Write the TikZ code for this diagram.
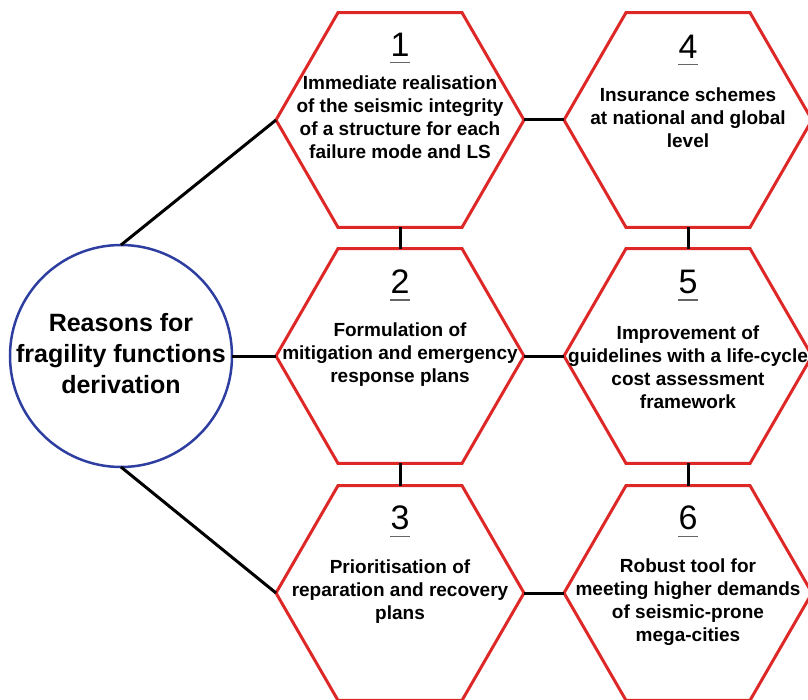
\documentclass[tikz,border=0pt]{standalone}
\usepackage{fontspec}
\setmainfont{Liberation Sans}
\usetikzlibrary{shapes.geometric}
\definecolor{hexred}{RGB}{222,40,40}
\definecolor{cblue}{RGB}{45,62,160}
\begin{document}
\begin{tikzpicture}[x=1pt,y=-1pt,
 hexbox/.style={regular polygon, regular polygon sides=6, minimum size=248pt, draw=hexred, line width=3pt, inner sep=0pt, outer sep=0pt},
 hextext/.style={align=center, font=\fontsize{19}{23}\selectfont\bfseries, inner sep=0pt},
 numtext/.style={font=\fontsize{34}{34}\selectfont, inner sep=0pt},
 uline/.style={draw=black!60, line width=1.2pt},
 link/.style={line width=3pt, black}]
\useasboundingbox (0,0) rectangle (808,700);
% main circle
\node[circle, minimum size=222pt, draw=cblue, line width=2.5pt, inner sep=0pt, outer sep=0pt] (c) at (121,356) {};
\node[align=center, font=\fontsize{25}{31}\selectfont\bfseries, inner sep=0pt] (ct) at (121,354) {Reasons for\\fragility functions\\derivation};
% hexagons
\node[hexbox] (h1) at (400,120) {};
\node[hexbox] (h2) at (400,356) {};
\node[hexbox] (h3) at (400,593) {};
\node[hexbox] (h4) at (688,120) {};
\node[hexbox] (h5) at (688,356) {};
\node[hexbox] (h6) at (688,593) {};
% numbers
\node[numtext] (n1) at (400,45) {1};
\node[numtext] (n2) at (400,282) {2};
\node[numtext] (n3) at (400,518) {3};
\node[numtext] (n4) at (688,47) {4};
\node[numtext] (n5) at (688,282) {5};
\node[numtext] (n6) at (688,518) {6};
\foreach \n in {n1,n2,n3,n4,n5,n6}{
  \draw[uline] ([xshift=-10pt,yshift=-6pt]\n.south) -- ([xshift=10pt,yshift=-6pt]\n.south);
}
% texts
\node[hextext] (t1) at (400,117) {Immediate realisation\\of the seismic integrity\\of a structure for each\\failure mode and LS};
\node[hextext] (t2) at (400,355) {Formulation of\\mitigation and emergency\\response plans};
\node[hextext] (t3) at (400,592) {Prioritisation of\\reparation and recovery\\plans};
\node[hextext] (t4) at (688,118) {Insurance schemes\\at national and global\\level};
\node[hextext] (t5) at (688,367) {Improvement of\\guidelines with a life-cycle\\cost assessment\\framework};
\node[hextext] (t6) at (688,602) {Robust tool for\\meeting higher demands\\of seismic-prone\\mega-cities};
% connectors
\draw[link] (c.north) -- (h1.west);
\draw[link] (c.east) -- (h2.west);
\draw[link] (c.south) -- (h3.west);
\draw[link] (h1.south) -- (h2.north);
\draw[link] (h2.south) -- (h3.north);
\draw[link] (h4.south) -- (h5.north);
\draw[link] (h5.south) -- (h6.north);
\draw[link] (h1.east) -- (h4.west);
\draw[link] (h2.east) -- (h5.west);
\draw[link] (h3.east) -- (h6.west);
\end{tikzpicture}
\end{document}
